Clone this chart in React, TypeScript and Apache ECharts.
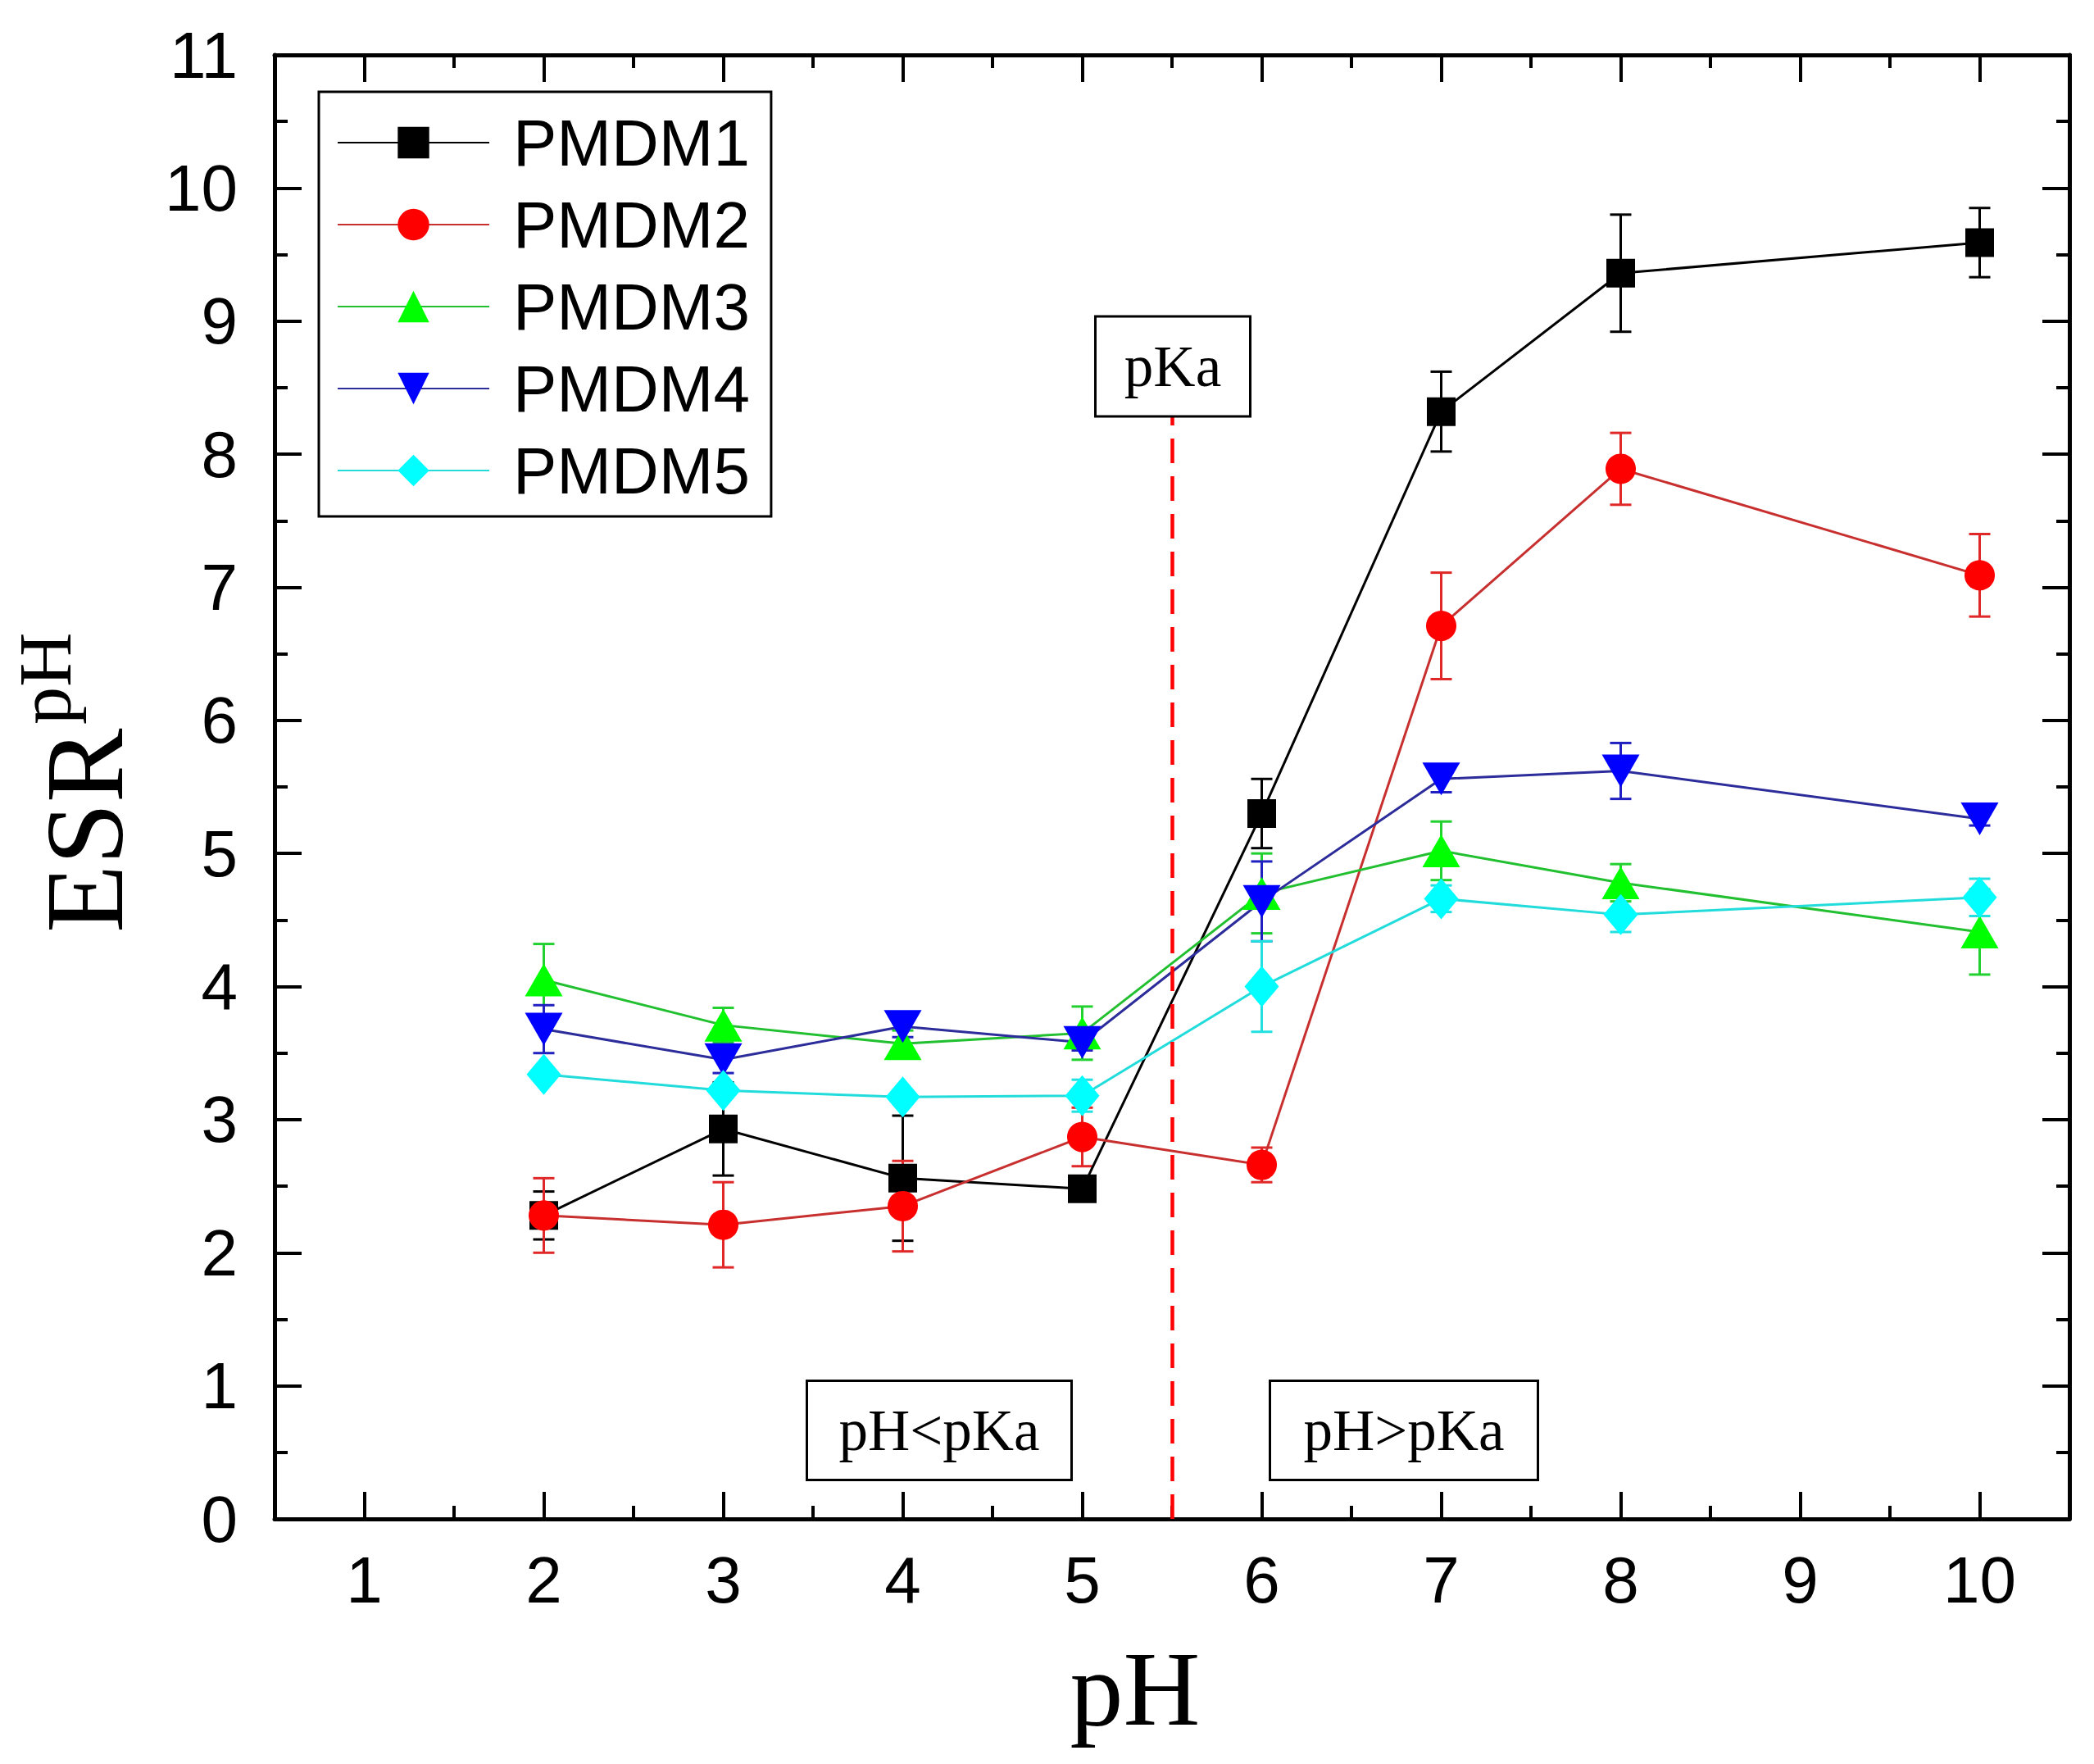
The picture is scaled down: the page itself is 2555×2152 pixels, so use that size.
import React, { useEffect, useRef } from "react";
import * as echarts from "echarts";

// pH values where ESR was measured
const PH = [2, 3, 4, 5, 6, 7, 8, 10];

// ESR^pH values
const PMDM1 = [2.28, 2.93, 2.56, 2.48, 5.3, 8.32, 9.36, 9.59];
const PMDM2 = [2.28, 2.21, 2.35, 2.87, 2.66, 6.71, 7.89, 7.09];
const PMDM3 = [4.05, 3.71, 3.57, 3.65, 4.7, 5.02, 4.78, 4.41];
const PMDM4 = [3.68, 3.45, 3.7, 3.58, 4.64, 5.56, 5.62, 5.26];
const PMDM5 = [3.34, 3.22, 3.17, 3.18, 4.0, 4.66, 4.54, 4.67];

// error bar half-widths
const PMDM1_ERR = [0.18, 0.35, 0.47, 0.05, 0.26, 0.3, 0.44, 0.26];
const PMDM2_ERR = [0.28, 0.32, 0.34, 0.22, 0.13, 0.4, 0.27, 0.31];
const PMDM3_ERR = [0.27, 0.13, 0.1, 0.2, 0.3, 0.22, 0.14, 0.32];
const PMDM4_ERR = [0.18, 0.1, 0.08, 0.06, 0.3, 0.1, 0.21, 0.05];
const PMDM5_ERR = [0.05, 0.05, 0.05, 0.12, 0.34, 0.1, 0.13, 0.14];

// axis ticks
const X_MAJOR = [1, 2, 3, 4, 5, 6, 7, 8, 9, 10];
const X_MINOR = [1.5, 2.5, 3.5, 4.5, 5.5, 6.5, 7.5, 8.5, 9.5];

// pKa marker
const PKA = 5.5;
const PKA_LINE_TOP = 8.29;

const SANS = "'Liberation Sans', Arial, sans-serif";
const SERIF = "'Liberation Serif', 'Times New Roman', serif";

const SERIES = [
  { name: "PMDM1", values: PMDM1, errors: PMDM1_ERR, symbol: "rect", size: 35, rotate: 0, marker: "#000000", line: "#000000", bar: "#000000" },
  { name: "PMDM2", values: PMDM2, errors: PMDM2_ERR, symbol: "circle", size: 37, rotate: 0, marker: "#ff0000", line: "#c83030", bar: "#e02828" },
  { name: "PMDM3", values: PMDM3, errors: PMDM3_ERR, symbol: "triangle", size: [46, 40], rotate: 0, marker: "#00ff00", line: "#22c030", bar: "#22d030" },
  { name: "PMDM4", values: PMDM4, errors: PMDM4_ERR, symbol: "triangle", size: [46, 40], rotate: 180, marker: "#0000ff", line: "#2c2c9a", bar: "#2020c0" },
  { name: "PMDM5", values: PMDM5, errors: PMDM5_ERR, symbol: "diamond", size: [42, 50], rotate: 0, marker: "#00ffff", line: "#22dcdc", bar: "#22e0e0" },
];

const AXIS_LINE = { show: true, lineStyle: { color: "#000", width: 5 } };
const MAJOR_TICK = { show: true, inside: true, length: 33, lineStyle: { color: "#000", width: 4 } };
const MINOR_TICK = { show: true, inside: true, length: 16, lineStyle: { color: "#000", width: 4 } };

const App: React.FC = () => {
  const chartRef = useRef<HTMLDivElement | null>(null);

  useEffect(() => {
    document.body.style.margin = "0";
    if (!chartRef.current) return;
    const chart = echarts.init(chartRef.current, undefined, { renderer: "svg" });

    const lineSeries = SERIES.map((s, idx) => ({
      type: "line",
      name: s.name,
      z: 3,
      data: PH.map((x, i) => [x, s.values[i]]),
      symbol: s.symbol,
      symbolSize: s.size,
      symbolRotate: s.rotate,
      showAllSymbol: true,
      itemStyle: { color: s.marker },
      lineStyle: { color: s.line, width: 3 },
      markLine:
        idx === 0
          ? {
              silent: true,
              symbol: ["none", "none"],
              label: { show: false },
              lineStyle: { color: "#ff0000", type: [30, 16], width: 4.5 },
              data: [[{ coord: [PKA, 0] }, { coord: [PKA, PKA_LINE_TOP] }]],
            }
          : undefined,
    }));

    const errorSeries = SERIES.map((s) => ({
      type: "custom",
      name: s.name + " error",
      z: 2,
      silent: true,
      data: PH.map((x, i) => [x, s.values[i] - s.errors[i], s.values[i] + s.errors[i]]),
      encode: { x: 0, y: [1, 2] },
      renderItem: (params: any, api: any) => {
        const x = api.value(0);
        const top = api.coord([x, api.value(2)]);
        const bot = api.coord([x, api.value(1)]);
        const hw = 13;
        const style = { stroke: s.bar, lineWidth: 3 };
        return {
          type: "group",
          children: [
            { type: "line", shape: { x1: top[0], y1: top[1], x2: bot[0], y2: bot[1] }, style },
            { type: "line", shape: { x1: top[0] - hw, y1: top[1], x2: top[0] + hw, y2: top[1] }, style },
            { type: "line", shape: { x1: bot[0] - hw, y1: bot[1], x2: bot[0] + hw, y2: bot[1] }, style },
          ],
        };
      },
    }));

    const boxText = (cx: number, cy: number, w: number, h: number, text: string) => [
      {
        type: "rect",
        shape: { x: cx - w / 2, y: cy - h / 2, width: w, height: h },
        style: { fill: "#fff", stroke: "#000", lineWidth: 3 },
        z: 10,
      },
      {
        type: "text",
        x: cx,
        y: cy,
        style: { text, font: `71px ${SERIF}`, fill: "#000", textAlign: "center", textVerticalAlign: "middle" },
        z: 11,
      },
    ];

    const option: any = {
      animation: false,
      backgroundColor: "#fff",
      grid: { left: 335, right: 30, top: 67, bottom: 299, containLabel: false },
      xAxis: [
        {
          type: "value",
          position: "bottom",
          min: 0.5,
          max: 10.5,
          axisLine: AXIS_LINE,
          axisTick: { ...MAJOR_TICK, customValues: X_MAJOR },
          axisLabel: { customValues: X_MAJOR, fontSize: 80, fontFamily: SANS, color: "#000", margin: 34 },
          splitLine: { show: false },
        },
        {
          type: "value",
          position: "bottom",
          min: 0.5,
          max: 10.5,
          axisLine: { show: false },
          axisTick: { ...MINOR_TICK, customValues: X_MINOR },
          axisLabel: { show: false },
          splitLine: { show: false },
        },
        {
          type: "value",
          position: "top",
          min: 0.5,
          max: 10.5,
          axisLine: AXIS_LINE,
          axisTick: { ...MAJOR_TICK, customValues: X_MAJOR },
          axisLabel: { show: false },
          splitLine: { show: false },
        },
        {
          type: "value",
          position: "top",
          min: 0.5,
          max: 10.5,
          axisLine: { show: false },
          axisTick: { ...MINOR_TICK, customValues: X_MINOR },
          axisLabel: { show: false },
          splitLine: { show: false },
        },
      ],
      yAxis: [
        {
          type: "value",
          position: "left",
          min: 0,
          max: 11,
          interval: 1,
          axisLine: AXIS_LINE,
          axisTick: MAJOR_TICK,
          minorTick: { show: true, splitNumber: 2, length: 16, lineStyle: { color: "#000", width: 4 } },
          axisLabel: { fontSize: 80, fontFamily: SANS, color: "#000", margin: 45 },
          splitLine: { show: false },
          minorSplitLine: { show: false },
        },
        {
          type: "value",
          position: "right",
          min: 0,
          max: 11,
          interval: 1,
          axisLine: AXIS_LINE,
          axisTick: MAJOR_TICK,
          minorTick: { show: true, splitNumber: 2, length: 16, lineStyle: { color: "#000", width: 4 } },
          axisLabel: { show: false },
          splitLine: { show: false },
          minorSplitLine: { show: false },
        },
      ],
      legend: {
        data: SERIES.map((s) => s.name),
        orient: "vertical",
        left: 389,
        top: 112,
        padding: [22, 26, 16, 22],
        itemWidth: 185,
        itemHeight: 48,
        itemGap: 20,
        backgroundColor: "#fff",
        borderColor: "#000",
        borderWidth: 3,
        borderRadius: 0,
        selectedMode: false,
        textStyle: { fontSize: 80, fontFamily: SANS, color: "#000", lineHeight: 80, padding: [0, 0, 0, 24] },
        z: 20,
      },
      graphic: [
        ...boxText(1431, 447, 189, 122, "pKa"),
        ...boxText(1146, 1745, 323, 121, "pH<pKa"),
        ...boxText(1713, 1745, 327, 121, "pH>pKa"),
        {
          type: "text",
          x: 1385,
          y: 2060,
          style: { text: "pH", font: `130px ${SERIF}`, fill: "#000", textAlign: "center", textVerticalAlign: "middle" },
        },
        {
          type: "text",
          x: 103,
          y: 1138,
          rotation: Math.PI / 2,
          style: { text: "ESR", font: `136px ${SERIF}`, fill: "#000", textAlign: "left", textVerticalAlign: "middle" },
        },
        {
          type: "text",
          x: 55,
          y: 884,
          rotation: Math.PI / 2,
          style: { text: "pH", font: `92px ${SERIF}`, fill: "#000", textAlign: "left", textVerticalAlign: "middle" },
        },
      ],
      series: [...errorSeries, ...lineSeries],
    };

    chart.setOption(option);
    return () => chart.dispose();
  }, []);

  return <div ref={chartRef} style={{ width: 2555, height: 2152 }} />;
};

export default App;
